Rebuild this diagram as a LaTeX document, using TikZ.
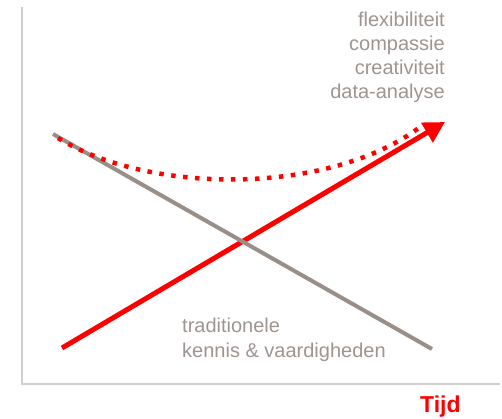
\documentclass[tikz,border=0pt]{standalone}
\usepackage{fontspec}
\setmainfont{Liberation Sans}
\usetikzlibrary{arrows.meta}
\definecolor{axisgray}{HTML}{D2CECC}
\definecolor{lblgray}{HTML}{9E9490}
\definecolor{linegray}{HTML}{9A8E88}
\definecolor{arrred}{HTML}{FF0000}
\begin{document}
\begin{tikzpicture}[x=1pt,y=-1pt,
  lbl/.style={text=lblgray, font=\fontsize{20}{24}\selectfont, inner sep=0pt},
  axisline/.style={draw=axisgray, line width=1.5pt},
  graylinestyle/.style={draw=linegray, line width=4pt},
  redarrow/.style={draw=arrred, line width=5pt, -{Triangle[length=21pt,width=22pt]}},
  reddots/.style={draw=arrred, line width=4.5pt, dash pattern=on 4.5pt off 7.5pt}]
\useasboundingbox (0,0) rectangle (502,418);
% axes
\coordinate (ytop) at (22,7);
\coordinate (origin) at (22,384);
\coordinate (xend) at (500,384);
\draw[axisline] (ytop) -- (origin) -- (xend);
% lines
\coordinate (redstart) at (62,348);
\coordinate (redtip) at (445,122);
\coordinate (graystart) at (53,134);
\coordinate (grayend) at (432,349);
\coordinate (dotstart) at (58,138);
\coordinate (dotend) at (420,127);
\draw[redarrow] (redstart) -- (redtip);
\draw[graylinestyle] (graystart) -- (grayend);
\draw[reddots] (dotstart) .. controls (150,195) and (330,195) .. (dotend);
% labels
\node[lbl, anchor=base east] (t1) at (445,26) {flexibiliteit};
\node[lbl, anchor=base east] (t2) at (445,50) {compassie};
\node[lbl, anchor=base east] (t3) at (445,74) {creativiteit};
\node[lbl, anchor=base east] (t4) at (445,98) {data-analyse};
\node[lbl, anchor=base west] (t5) at (182,332) {traditionele};
\node[lbl, anchor=base west] (t6) at (182,357) {kennis \& vaardigheden};
\node[text=arrred, font=\bfseries\fontsize{23}{28}\selectfont, inner sep=0pt, anchor=base west] (tijd) at (420,412) {Tijd};
\end{tikzpicture}
\end{document}
